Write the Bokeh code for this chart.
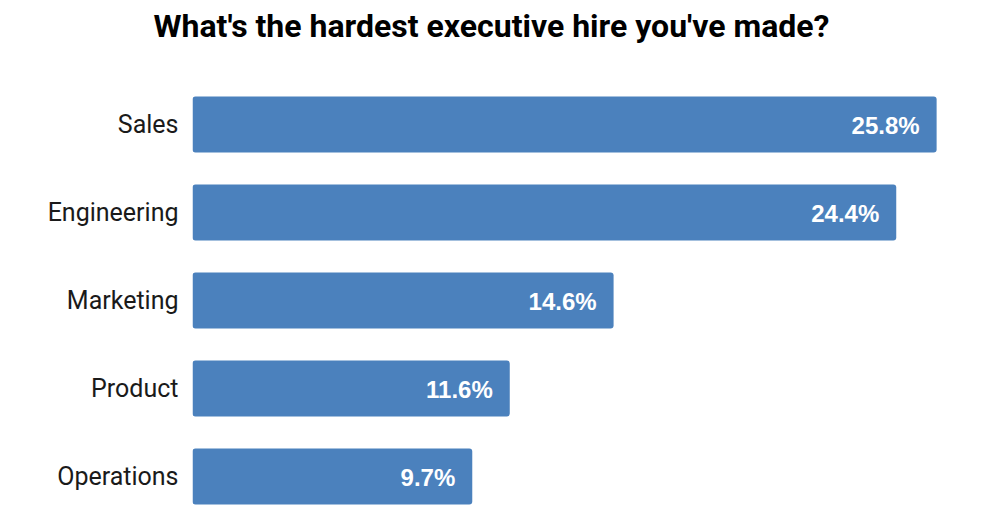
from bokeh.plotting import figure
from bokeh.models import ColumnDataSource, FixedTicker, Range1d
from bokeh.embed import file_html
from bokeh.resources import INLINE
from bokeh.core.properties import value

categories = ["Sales", "Engineering", "Marketing", "Product", "Operations"]
percent = [25.8, 24.4, 14.6, 11.0, 9.7]
labels = ["25.8%", "24.4%", "14.6%", "11.6%", "9.7%"]
title_text = "What's the hardest executive hire you've made?"

positions = list(range(len(categories)))[::-1]

src = ColumnDataSource(dict(y=positions, v=percent, lab=labels, cat=categories))

p = figure(width=984, height=513, output_backend="svg", toolbar_location=None,
           x_range=Range1d(0, 27.46), y_range=Range1d(-0.42, 4.875),
           min_border_left=192, min_border_right=0, min_border_top=47, min_border_bottom=0)
p.outline_line_color = None
p.grid.visible = False
p.xaxis.visible = False

p.hbar(y="y", right="v", left=0, height=0.636, source=src, color="#4b81bd",
       line_color=None, border_radius=3)
p.text(x="v", y="y", text="lab", source=src, text_align="right", text_baseline="middle",
       x_offset=-17, y_offset=1, text_color="white", text_font=value("Liberation Sans"),
       text_font_style="bold", text_font_size="24px")

yax = p.yaxis[0]
yax.ticker = FixedTicker(ticks=positions)
yax.major_label_overrides = {pos: c for pos, c in zip(positions, categories)}
yax.axis_line_color = None
yax.major_tick_line_color = None
yax.minor_tick_line_color = None
yax.major_label_standoff = 8
yax.major_label_text_font = "Roboto"
yax.major_label_text_font_size = "25px"
yax.major_label_text_color = "#1a1a1a"

p.title.text = title_text
p.title.align = "left"
p.title.offset = -39
p.title.standoff = 6
p.title.text_font = "Roboto"
p.title.text_font_style = "bold"
p.title.text_font_size = "32px"
p.title.text_color = "black"

open("out.html", "w").write(file_html(p, INLINE))
